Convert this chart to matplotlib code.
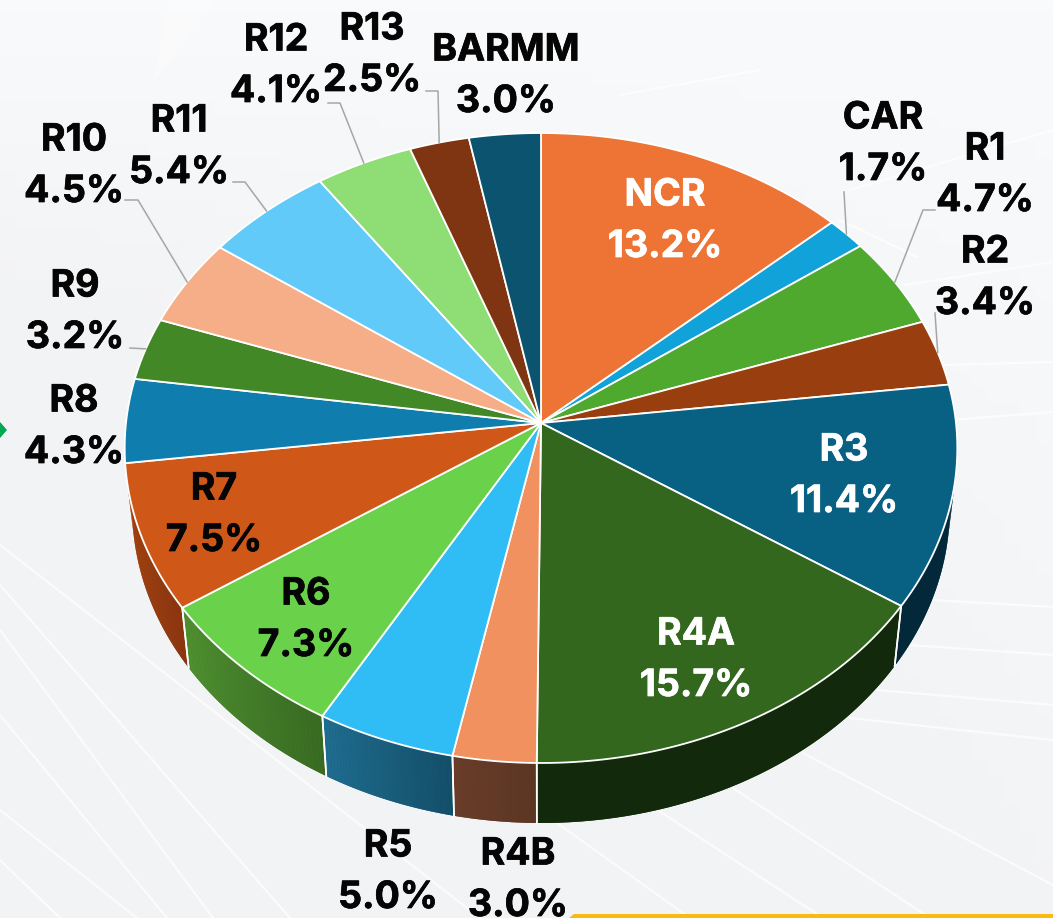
"""Regional share pie, drawn as a tilted 3D disc on a pale background."""

import numpy as np
import matplotlib.pyplot as plt
import matplotlib.patheffects as pe
from matplotlib.collections import PolyCollection
from matplotlib.colors import to_rgb

plt.rcParams["font.family"] = ["Inter", "DejaVu Sans"]

regions = ["NCR", "CAR", "R1", "R2", "R3", "R4A", "R4B", "R5", "R6", "R7",
           "R8", "R9", "R10", "R11", "R12", "R13", "BARMM"]
shares = [13.2, 1.7, 4.7, 3.4, 11.4, 15.7, 3.0, 5.0, 7.3, 7.5,
          4.3, 3.2, 4.5, 5.4, 4.1, 2.5, 3.0]
top_colors = ["#ed7435", "#10a2d8", "#4fa92f", "#993f0f", "#086082", "#33671e",
              "#f29160", "#30bdf6", "#6ad24a", "#cf5819", "#0f7eae", "#438826",
              "#f5ae87", "#62caf8", "#8fdd75", "#7f3511", "#0b536f"]

# side wall shades, start and end of each wedge going clockwise
side_start = {"R3": "#02283a", "R4A": "#13290b", "R4B": "#5a3623", "R5": "#134e68",
              "R6": "#386a22", "R7": "#8a3510"}
side_end = {"R3": "#02283a", "R4A": "#13290b", "R4B": "#6a3d2a", "R5": "#1f6d90",
            "R6": "#4f9030", "R7": "#a8460f"}

# layout of the labels in picture pixels: x, y of the name line centre
label_pos = {"NCR": (665, 192), "CAR": (883, 115), "R1": (985, 146), "R2": (985, 249),
             "R3": (844, 447), "R4A": (696, 631), "R4B": (518, 851), "R5": (388, 843),
             "R6": (306, 591), "R7": (214, 486), "R8": (74, 398), "R9": (75, 283),
             "R10": (74, 137), "R11": (179, 118), "R12": (276, 37), "R13": (372, 26),
             "BARMM": (506, 47)}
white_labels = ["NCR", "R3", "R4A"]

# leader start and knee, the far end is taken from the wedge middle
leaders = {"CAR": [(844, 192)], "R1": [(935, 210), (923, 210)], "R2": [(935, 313)],
           "R9": [(130, 348)], "R10": [(125, 200), (138, 200)],
           "R11": [(233, 182), (245, 182)], "R12": [(328, 103), (340, 103)],
           "R13": [(426, 91), (438, 91)]}

CX, CY = 541, 423
RX, RY = 415, 313
TILT = 0.0794
DEPTH = 60
SHRINK = 0.982


def rim(theta):
    """Project clockwise-from-top angles on the tilted disc."""
    xu, yu = np.sin(theta), np.cos(theta)
    w = 1 + TILT * yu
    return CX + RX * xu / w, CY - RY * yu / w


def rim_low(theta):
    x, y = rim(theta)
    return CX + (x - CX) * SHRINK, y + DEPTH


def draw_background(ax):
    grad = np.linspace(0, 1, 64)[:, None] * np.linspace(1, 0.3, 64)[None, :]
    base = np.array(to_rgb("#f2f3f5"))
    light = np.array(to_rgb("#f9fafb"))
    img = base + (light - base) * (1 - np.clip(grad * 3, 0, 1))[..., None]
    ax.imshow(img, extent=(0, 1053, 918, 0), aspect="auto", zorder=0)

    streaks = [((0, 545), (480, 918)), ((0, 585), (290, 918)), ((0, 630), (213, 918)),
               ((0, 715), (167, 918)), ((0, 810), (137, 918)), ((0, 860), (60, 918)),
               ((557, 823), (690, 918)), ((653, 807), (823, 918)), ((733, 788), (930, 918)),
               ((803, 753), (1053, 885)), ((933, 600), (1053, 607)), ((909, 645), (1053, 655)),
               ((877, 690), (1053, 705)), ((850, 718), (1053, 740)), ((950, 420), (1053, 412)),
               ((945, 365), (1053, 362)), ((905, 285), (1053, 262)), ((850, 190), (1053, 130)),
               ((840, 220), (917, 257)), ((620, 95), (760, 70))]
    for a, b in streaks:
        ax.plot([a[0], b[0]], [a[1], b[1]], color="white", lw=1.6, alpha=0.7, zorder=1)

    ax.fill([153, 215, 170], [82, 0, 0], color="white", alpha=0.3, lw=0, zorder=1)
    ax.fill([0, 7, 0], [422, 430, 438], color="#00a651", lw=0, zorder=1)
    ax.fill([569, 574, 1053, 1053], [918, 914, 914, 918], color="#fdb913", lw=0, zorder=1)


def main():
    fig = plt.figure(figsize=(10.53, 9.18), dpi=100)
    ax = fig.add_axes([0, 0, 1, 1])
    draw_background(ax)

    edges = np.cumsum([0] + shares) / sum(shares) * 2 * np.pi

    # side wall first, the top face covers whatever sits behind it
    for name, start, end in zip(regions, edges[:-1], edges[1:]):
        if name not in side_start:
            continue
        th = np.linspace(start, end, 40)
        x1, y1 = rim(th)
        x2, y2 = rim_low(th)
        c0, c1 = np.array(to_rgb(side_start[name])), np.array(to_rgb(side_end[name]))
        # flat band underneath hides the seams between the gradient strips
        ax.fill(np.r_[x1, x2[::-1]], np.r_[y1, y2[::-1]], color=(c0 + c1) / 2, lw=0, zorder=2)
        quads, cols = [], []
        for i in range(len(th) - 1):
            quads.append([(x1[i], y1[i]), (x1[i + 1], y1[i + 1]),
                          (x2[i + 1], y2[i + 1]), (x2[i], y2[i])])
            cols.append(c0 + (c1 - c0) * i / (len(th) - 2))
        ax.add_collection(PolyCollection(quads, facecolors=cols, edgecolors="none", zorder=2))
        for t in (start, end):
            if np.pi * 0.6 < t < np.pi * 1.35:
                xa, ya = rim(t)
                xb, yb = rim_low(t)
                ax.plot([xa, xb], [ya, yb], color="white", lw=1.2, zorder=3)

    for color, start, end in zip(top_colors, edges[:-1], edges[1:]):
        th = np.linspace(start, end, 60)
        x, y = rim(th)
        ax.fill(np.r_[CX, x], np.r_[CY, y], facecolor=color, edgecolor="white",
                lw=1.3, joinstyle="round", zorder=4)

    mids = dict(zip(regions, (edges[:-1] + edges[1:]) / 2))
    for name, pts in leaders.items():
        end = rim(mids[name])
        xs = [p[0] for p in pts] + [end[0]]
        ys = [p[1] for p in pts] + [end[1]]
        ax.plot(xs, ys, color="#a6a6a6", lw=1.1, zorder=5)

    for name, share in zip(regions, shares):
        x, y = label_pos[name]
        color = "white" if name in white_labels else "#050505"
        stroke = [pe.withStroke(linewidth=0.5, foreground=color)]
        ax.text(x, y + 13.5, name, ha="center", va="baseline", fontsize=27,
                fontweight="bold", color=color, zorder=6, path_effects=stroke)
        ax.text(x, y + 65, f"{share:.1f}%", ha="center", va="baseline", fontsize=27,
                fontweight="bold", color=color, zorder=6, path_effects=stroke)

    ax.set_xlim(0, 1053)
    ax.set_ylim(918, 0)
    ax.axis("off")
    fig.savefig("out.png", dpi=100)
    plt.close(fig)


if __name__ == "__main__":
    main()
